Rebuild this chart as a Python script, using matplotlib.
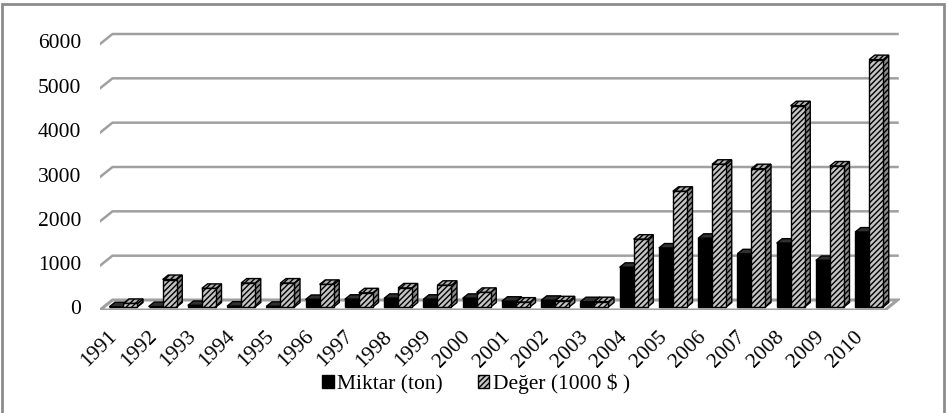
import numpy as np
import matplotlib.pyplot as plt
from matplotlib.patches import Polygon, Patch, Rectangle

# data
years = [str(y) for y in range(1991, 2011)]
miktar = [5, 10, 35, 20, 15, 170, 175, 195, 175, 195,
          130, 150, 120, 895, 1330, 1550, 1200, 1440, 1050, 1690]
deger = [80, 620, 420, 540, 540, 510, 320, 430, 490, 330,
         110, 140, 120, 1530, 2610, 3220, 3120, 4540, 3180, 5580]
yticks = [0, 1000, 2000, 3000, 4000, 5000, 6000]

plt.rcParams['font.family'] = ['Liberation Serif', 'DejaVu Serif']
plt.rcParams['hatch.linewidth'] = 1.0

W, H = 947, 413
fig = plt.figure(figsize=(W / 100, H / 100), dpi=100)
ax = fig.add_axes([100 / W, (H - 310) / H, 800 / W, 280 / H])

px_x = 39.25          # pixels per category
px_y = 266 / 6000     # pixels per unit
ax.set_xlim(-0.5, -0.5 + 800 / px_x)
ax.set_ylim(0, 280 / px_y)
ax.axis('off')

n = len(years)
left, right = -0.5, n - 0.5
# depth of the floor / wall (fake 3d), in data units
ddx, ddy = 12.5 / px_x, 10 / px_y
f0, f1 = 0.3, 0.75
ox, oy = f0 * ddx, f0 * ddy
bdx, bdy = (f1 - f0) * ddx, (f1 - f0) * ddy
bw = 14 / px_x

grid_c = '#a0a0a0'
ax.add_patch(Polygon([(left, 0), (right, 0), (right + ddx, ddy), (left + ddx, ddy)],
                     closed=True, fc='white', ec=grid_c, lw=2.2, zorder=1))
for v in yticks[1:]:
    ax.plot([left, left + ddx, right + ddx], [v, v + ddy, v + ddy],
            color=grid_c, lw=1.8, zorder=0)
for v in yticks:
    ax.annotate(str(v), (left, v), xytext=(-19, 0), textcoords='offset pixels',
                ha='right', va='center', fontsize=15.5)


def faces(xs, vals, side_fc, top_fc, hatch, z):
    for x0, v in zip(xs, vals):
        xr = x0 + bw
        ax.add_patch(Polygon([(xr, oy), (xr + bdx, oy + bdy), (xr + bdx, oy + bdy + v), (xr, oy + v)],
                             closed=True, fc=side_fc, ec='black', lw=1, hatch=hatch, zorder=z))
        ax.add_patch(Polygon([(x0, oy + v), (xr, oy + v), (xr + bdx, oy + v + bdy), (x0 + bdx, oy + v + bdy)],
                             closed=True, fc=top_fc, ec='black', lw=1, hatch=hatch, zorder=z))


x = np.arange(n)
xb = x + ox - bw
xd = x + ox
faces(xb, miktar, 'black', '#303030', None, 2)
ax.bar(xb, miktar, bw, bottom=oy, align='edge', color='black', ec='black', lw=1, zorder=2.5)
faces(xd, deger, '#8a8a8a', '#b0b0b0', '//////', 3)
ax.bar(xd, deger, bw, bottom=oy, align='edge', color='#c4c4c4', ec='black', lw=1,
       hatch='//////', zorder=3.5)

for i, yr in enumerate(years):
    ax.annotate(yr, (i, 0), xytext=(-5, -24), textcoords='offset pixels', rotation=45,
                rotation_mode='anchor', ha='right', va='center', fontsize=15.5)

handles = [Patch(fc='black', ec='black', label='Miktar (ton)'),
           Patch(fc='#c4c4c4', ec='black', hatch='//////', label='Değer (1000 $ )')]
fig.legend(handles=handles, loc='center', bbox_to_anchor=(476 / W, 29 / H), ncol=2,
           frameon=False, fontsize=15.5, handlelength=0.55, handleheight=0.55,
           handletextpad=0.15, columnspacing=1.6)

fig.patches.append(Rectangle((1.5 / W, -0.05), 942.5 / W, (H - 4) / H + 0.05,
                             transform=fig.transFigure, fill=False, ec='#8c8c8c', lw=2))

fig.savefig('out.png', dpi=100)
